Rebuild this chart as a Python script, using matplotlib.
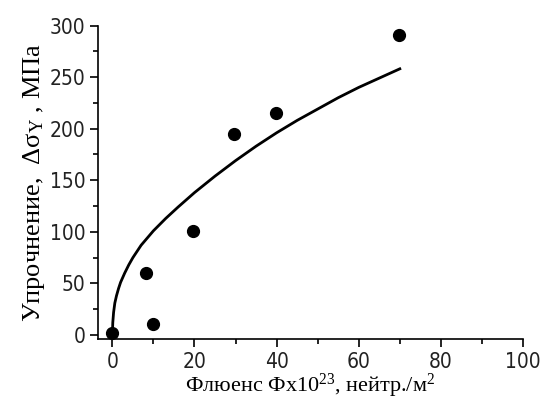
import matplotlib
matplotlib.use("Agg")
from matplotlib import pyplot as plt
from matplotlib.ticker import MultipleLocator

plt.rcParams['mathtext.fontset'] = 'custom'
plt.rcParams['mathtext.rm'] = 'Liberation Serif'
plt.rcParams['mathtext.it'] = 'Liberation Serif:italic'

# experimental points
fluence = [0, 8.2, 9.9, 19.7, 29.7, 39.9, 69.7]
hardening = [2, 60, 11, 101, 195, 215, 291]

# fitted curve
fit_x = [0, 0.1, 0.3, 0.6, 1, 1.5, 2, 3, 4, 5, 7, 10, 13, 16, 20, 25, 30, 35, 40, 45, 50, 55, 60, 65, 70]
fit_y = [0, 12, 22, 31, 38, 45, 51, 60, 68, 75, 87, 101, 113, 124, 138, 154, 169, 183, 196, 208, 219, 230, 240, 249, 258]

xticks = [0, 20, 40, 60, 80, 100]
yticks = [0, 50, 100, 150, 200, 250, 300]

label_font = ['Liberation Serif', 'DejaVu Serif']

fig = plt.figure(figsize=(5.45, 3.99), dpi=100)
ax = fig.add_axes([98 / 545, 1 - 339 / 399, (523 - 98) / 545, (339 - 25.5) / 399])

ax.plot(fit_x, fit_y, color='black', lw=2)
ax.plot(fluence, hardening, 'o', color='black', markersize=8.5, clip_on=False)

ax.set_xlim(-3.5, 100)
ax.set_ylim(-3.9, 300)
ax.spines['top'].set_visible(False)
ax.spines['right'].set_visible(False)
ax.spines['left'].set_linewidth(1.2)
ax.spines['bottom'].set_linewidth(1.2)

ax.set_xticks(xticks)
ax.set_yticks(yticks)
ax.xaxis.set_minor_locator(MultipleLocator(10))
ax.yaxis.set_minor_locator(MultipleLocator(25))
ax.tick_params(which='major', direction='out', length=6, width=1.2, pad=3)
ax.tick_params(which='minor', direction='out', length=3.5, width=1.2)
for lbl in ax.get_xticklabels() + ax.get_yticklabels():
    lbl.set_family('DejaVu Sans')
    lbl.set_stretch('condensed')
    lbl.set_fontsize(15)
    lbl.set_color('#222222')

ax.set_xlabel("Флюенс Фх10$^{23}$, нейтр./м$^2$", family=label_font, fontsize=16, labelpad=0)
ax.set_ylabel("Упрочнение,  Δσ$_\\mathrm{Y}$ , МПа", family=label_font, fontsize=19, labelpad=2)

plt.savefig("out.png", dpi=100)
plt.close()
